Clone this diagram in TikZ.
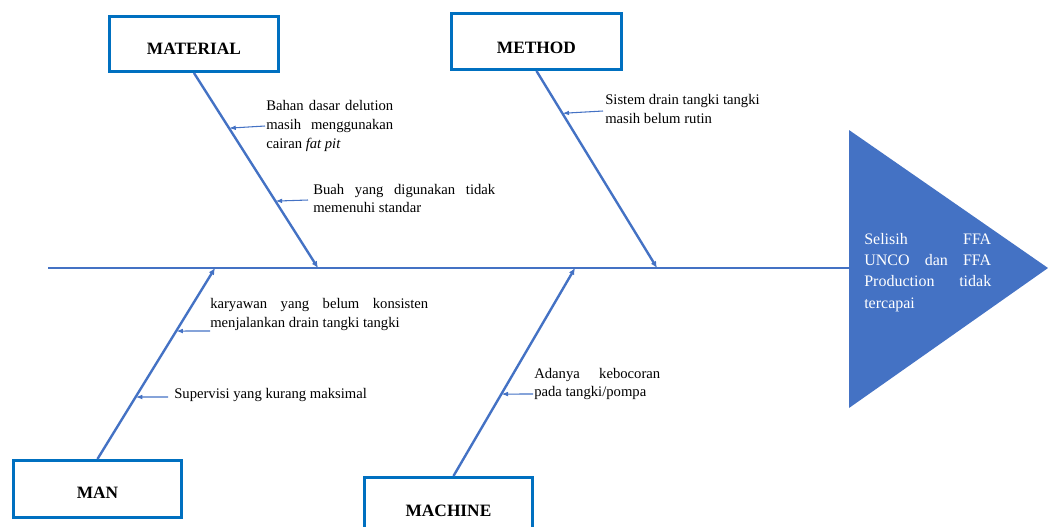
\documentclass[tikz,border=0pt]{standalone}
\usepackage{fontspec}
\setmainfont{Liberation Serif}
\usetikzlibrary{arrows.meta,calc}
\definecolor{boxblue}{HTML}{0070C0}
\definecolor{bonblue}{HTML}{4472C4}
\begin{document}
\begin{tikzpicture}[x=0.75pt,y=-0.75pt,
  catbox/.style={draw=boxblue,line width=2.2pt,inner xsep=0pt,inner ysep=0pt,
    font=\fontsize{13}{15}\selectfont\bfseries,align=center},
  bone/.style={draw=bonblue,line width=1.8pt,-{Latex[length=5pt,width=4.5pt]}},
  spine/.style={draw=bonblue,line width=1.5pt},
  subarrow/.style={draw=bonblue,line width=0.8pt,-{Latex[length=5pt,width=3.5pt]}},
  note/.style={inner sep=0pt,anchor=base west,font=\fontsize{11}{14.25}\selectfont},
  effect/.style={inner sep=0pt,anchor=base west,text=white,font=\fontsize{12}{16}\selectfont}]
\useasboundingbox (0,0) rectangle (1048,526);
% category boxes
\node[catbox,anchor=north west,minimum width=126.75pt,text height=28.5pt,text depth=12.75pt] (material) at (108,15) {MATERIAL};
\node[catbox,anchor=north west,minimum width=127.5pt,text height=30pt,text depth=12pt] (method) at (450,12) {METHOD};
\node[catbox,anchor=north west,minimum width=126pt,text height=28.5pt,text depth=14.25pt] (man) at (12,459) {MAN};
\node[catbox,anchor=north west,minimum width=126pt,text height=29.25pt,text depth=15.75pt] (machine) at (363,476) {MACHINE};
% spine and head
\coordinate (tail) at (48,268);
\coordinate (head) at (849,268);
\draw[spine] (tail) -- (head);
\fill[bonblue] (849,130) -- (849,408) -- (1048,268) -- cycle;
\node[effect] (effect) at (864,244) {\parbox[t]{95.25pt}{Selisih FFA\linebreak UNCO dan FFA\linebreak Production tidak\linebreak tercapai}};
% bone ends on spine
\coordinate (mj) at (318,268);
\coordinate (tj) at (657,268);
\coordinate (nj) at (215,268);
\coordinate (cj) at (575,268);
\coordinate (cstart) at ($(machine.north)+(5,0)$);
\draw[bone] (material.south) -- (mj);
\draw[bone] (method.south) -- (tj);
\draw[bone] (man.north) -- (nj);
\draw[bone] (cstart) -- (cj);
% notes
\node[note] (m1) at (266,110) {\parbox[t]{95.25pt}{Bahan dasar delution\linebreak masih menggunakan\linebreak cairan \textit{fat pit}}};
\node[note,font=\fontsize{11}{14}\selectfont] (m2) at (313,194) {\parbox[t]{136.5pt}{Buah yang digunakan tidak\linebreak memenuhi standar}};
\node[note] (t1) at (605,104) {\parbox[t]{130pt}{Sistem drain tangki tangki\\ masih belum rutin}};
\node[note] (n1) at (210,308) {\parbox[t]{163.5pt}{karyawan yang belum konsisten\linebreak menjalankan drain tangki tangki}};
\node[note] (n2) at (174,398) {Supervisi yang kurang maksimal};
\node[note,font=\fontsize{11}{13.5}\selectfont] (c1) at (534,378) {\parbox[t]{94.5pt}{Adanya kebocoran\linebreak pada tangki/pompa}};
% sub-cause arrows
\coordinate (m1s) at (265,126);
\coordinate (m1t) at ($(material.south)!0.283!(mj)$);
\coordinate (m2s) at (308,200);
\coordinate (m2t) at ($(material.south)!0.657!(mj)$);
\coordinate (t1s) at (603,111);
\coordinate (t1t) at ($(method.south)!0.215!(tj)$);
\coordinate (n1s) at (210,331);
\coordinate (n1t) at ($(man.north)!0.670!(nj)$);
\coordinate (n2s) at (168,397);
\coordinate (n2t) at ($(man.north)!0.3246!(nj)$);
\coordinate (c1s) at (533,394);
\coordinate (c1t) at ($(cstart)!0.394!(cj)$);
\draw[subarrow] (m1s) -- (m1t);
\draw[subarrow] (m2s) -- (m2t);
\draw[subarrow] (t1s) -- (t1t);
\draw[subarrow] (n1s) -- (n1t);
\draw[subarrow] (n2s) -- (n2t);
\draw[subarrow] (c1s) -- (c1t);
\end{tikzpicture}
\end{document}
